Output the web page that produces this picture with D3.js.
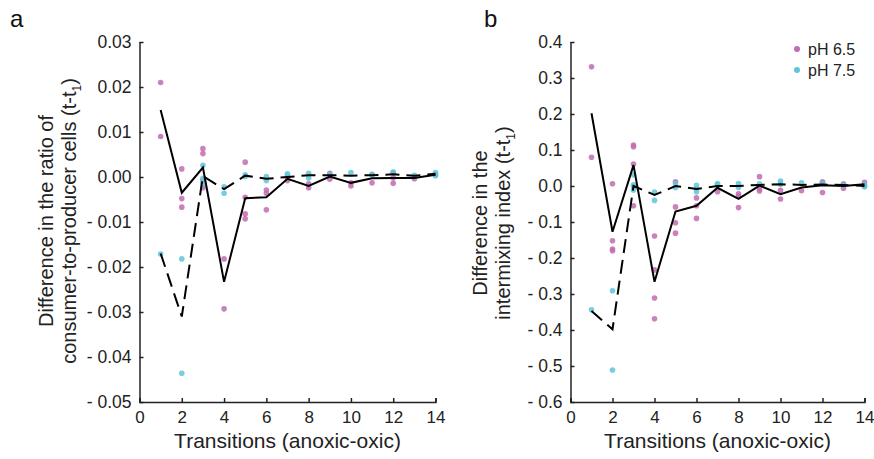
<!DOCTYPE html>
<html>
<head>
<meta charset="utf-8">
<script src="https://cdn.jsdelivr.net/npm/d3@7"></script>
<style>
  body { margin: 0; background: #fff; }
  svg { font-family: "Liberation Sans", Arial, sans-serif; }
</style>
</head>
<body>
<div id="chart"></div>
<script>
// transitions 1..14
var transitions = d3.range(1, 15);

// panel a: ratio of consumer-to-producer cells
var ratioPh65 = [
  [0.021, 0.009], [0.0018, -0.0048, -0.0067], [0.0063, 0.0052, -0.0008, -0.0024],
  [-0.0182, -0.0293], [0.0033, -0.0045, -0.0082, -0.0093], [-0.0029, -0.0036, -0.0073],
  [-0.0008, -0.0002], [-0.0015, -0.0024], [0.0008, -0.0005], [-0.0013, -0.002],
  [-0.0013, 0.0005], [0.001, -0.0002, -0.0014], [-0.0004], [0.0005]
];
var ratioPh75 = [
  [-0.0171], [-0.0182, -0.0436], [0.0026, -0.0003, -0.0015], [-0.0022, -0.0036],
  [0.0005, 0.0001], [0.0001, -0.0008], [0.0007, 0.0003], [0.0008, -0.0002],
  [0.0006], [0.001], [0.0006], [0.0011], [0.0004], [0.001, 0.0003]
];
var ratioMean65 = [0.0149, -0.0035, 0.0021, -0.0233, -0.0047, -0.0045, -0.0004, -0.002, 0.0001, -0.0013, -0.0003, -0.0002, -0.0002, 0.0005];
var ratioMean75 = [-0.017, -0.031, 0.0002, -0.0027, 0.0003, -0.0004, 0.0, 0.0004, 0.0004, 0.0003, 0.0004, 0.0006, 0.0003, 0.0007];
var ratioTicks = [0.03, 0.02, 0.01, 0.00, -0.01, -0.02, -0.03, -0.04, -0.05];

// panel b: intermixing index
var mixPh65 = [
  [0.331, 0.080], [0.006, -0.152, -0.175, -0.18], [0.114, 0.109, 0.061, -0.055],
  [-0.139, -0.233, -0.311, -0.369], [0.012, -0.058, -0.102, -0.131], [-0.033, -0.055, -0.090],
  [-0.016], [-0.022, -0.028, -0.060], [0.026, -0.008, -0.014], [-0.012, -0.036],
  [-0.013], [0.012, 0.008, -0.018], [0.006, -0.006], [0.010, 0.000]
];
var mixPh75 = [
  [-0.344], [-0.291, -0.511], [0.031, 0.003, -0.002, -0.011], [-0.017, -0.040],
  [0.006, -0.004], [0.002, -0.007, -0.016], [0.007, 0.003], [0.007, -0.004],
  [0.006], [0.014, 0.005], [0.009], [0.008], [0.003], [-0.002, 0.004]
];
var mixMean65 = [0.202, -0.127, 0.058, -0.266, -0.071, -0.055, -0.005, -0.036, 0.001, -0.023, -0.004, 0.002, 0.0, 0.005];
var mixMean75 = [-0.347, -0.398, 0.0, -0.025, 0.0, -0.008, 0.0, 0.0, 0.003, 0.005, 0.003, 0.004, 0.003, 0.0];
var mixTicks = [0.4, 0.3, 0.2, 0.1, 0.0, -0.1, -0.2, -0.3, -0.4, -0.5, -0.6];

var xTicks = [0, 2, 4, 6, 8, 10, 12, 14];
var seriesNames = ["pH 6.5", "pH 7.5"];
var colors = ["#c26cb0", "#5ec6d8"];

var svg = d3.select("#chart").append("svg")
  .attr("width", 874)
  .attr("height", 459);

function fmtTick(digits) {
  return function(v) {
    var s = Math.abs(v).toFixed(digits);
    return v < -1e-9 ? "- " + s : s;
  };
}

function drawPanel(opt) {
  var x = d3.scaleLinear().domain([0, 14]).range([opt.left, opt.left + opt.w]);
  var y = d3.scaleLinear().domain(opt.domain).range([402, 42]);
  var g = svg.append("g");

  // points
  [opt.p65, opt.p75].forEach(function(series, si) {
    var pts = [];
    series.forEach(function(vals, i) {
      vals.forEach(function(v) { pts.push({t: transitions[i], v: v}); });
    });
    g.append("g").selectAll("circle")
      .data(pts)
      .enter()
      .append("circle")
        .attr("cx", function(d) { return x(d.t); })
        .attr("cy", function(d) { return y(d.v); })
        .attr("r", 2.8)
        .style("fill", colors[si])
        .style("fill-opacity", 0.85);
  });

  // mean lines
  var line = d3.line()
    .x(function(d, i) { return x(transitions[i]); })
    .y(function(d) { return y(d); });
  g.append("path")
    .attr("d", line(opt.m65))
    .attr("fill", "none")
    .attr("stroke", "#000")
    .attr("stroke-width", 2);
  g.append("path")
    .attr("d", line(opt.m75))
    .attr("fill", "none")
    .attr("stroke", "#000")
    .attr("stroke-width", 2)
    .attr("stroke-dasharray", "14,7");

  // axes (ticks inside)
  var yAxis = g.append("g")
    .attr("transform", "translate(" + opt.left + ",0)")
    .call(d3.axisLeft(y).tickValues(opt.ticks).tickSize(-4).tickPadding(8).tickFormat(fmtTick(opt.digits)));
  var xAxis = g.append("g")
    .attr("transform", "translate(0,402)")
    .call(d3.axisBottom(x).tickValues(xTicks).tickSize(-4).tickPadding(9));
  [yAxis, xAxis].forEach(function(a) {
    a.select(".domain").attr("stroke", "#222").attr("stroke-width", 1.5);
    a.selectAll(".tick line").attr("stroke", "#222").attr("stroke-width", 1.5);
    a.selectAll("text").attr("font-size", 17.5).attr("fill", "#222")
      .attr("font-family", "Liberation Sans, Arial, sans-serif");
  });
  xAxis.selectAll("text").attr("font-size", 17);
  yAxis.select(".domain").attr("d", "M0.5," + 42 + "V402.5");

  // x label
  g.append("text")
    .attr("x", x(7))
    .attr("y", 448)
    .attr("text-anchor", "middle")
    .attr("font-size", 21)
    .attr("fill", "#222")
    .text("Transitions (anoxic-oxic)");

  // y label, two lines
  opt.ylabel.forEach(function(l, i) {
    var t = g.append("text")
      .attr("transform", "translate(" + opt.ylabelX[i] + "," + opt.ylabelY + ") rotate(-90)")
      .attr("text-anchor", "middle")
      .attr("font-size", 20)
      .attr("fill", "#222");
    if (l.sub) {
      t.append("tspan").text(l.text);
      t.append("tspan").attr("font-size", 12).attr("dy", 5).text("1");
      t.append("tspan").attr("dy", -5).text(")");
    } else {
      t.text(l.text);
    }
  });

  // panel letter
  svg.append("text")
    .attr("x", opt.letterX)
    .attr("y", 27)
    .attr("font-size", 24)
    .attr("fill", "#111")
    .text(opt.letter);
}

drawPanel({
  left: 139.5, w: 296, domain: [-0.05, 0.03], ticks: ratioTicks, digits: 2,
  p65: ratioPh65, p75: ratioPh75, m65: ratioMean65, m75: ratioMean75,
  ylabel: [{text: "Difference in the ratio of"}, {text: "consumer-to-producer cells (t-t", sub: true}],
  ylabelX: [53, 76], ylabelY: 221, letter: "a", letterX: 10
});

drawPanel({
  left: 570.5, w: 294, domain: [-0.6, 0.4], ticks: mixTicks, digits: 1,
  p65: mixPh65, p75: mixPh75, m65: mixMean65, m75: mixMean75,
  ylabel: [{text: "Difference in the"}, {text: "intermixing index (t-t", sub: true}],
  ylabelX: [487, 510], ylabelY: 223, letter: "b", letterX: 484
});

// legend
var legend = svg.append("g").selectAll("g")
  .data(seriesNames)
  .enter()
  .append("g")
    .attr("transform", function(d, i) { return "translate(797," + (49 + i * 21) + ")"; });
legend.append("circle")
  .attr("r", 3)
  .style("fill", function(d, i) { return colors[i]; });
legend.append("text")
  .attr("x", 11)
  .attr("y", 6)
  .attr("font-size", 16)
  .attr("fill", "#222")
  .text(function(d) { return d; });
</script>
</body>
</html>
